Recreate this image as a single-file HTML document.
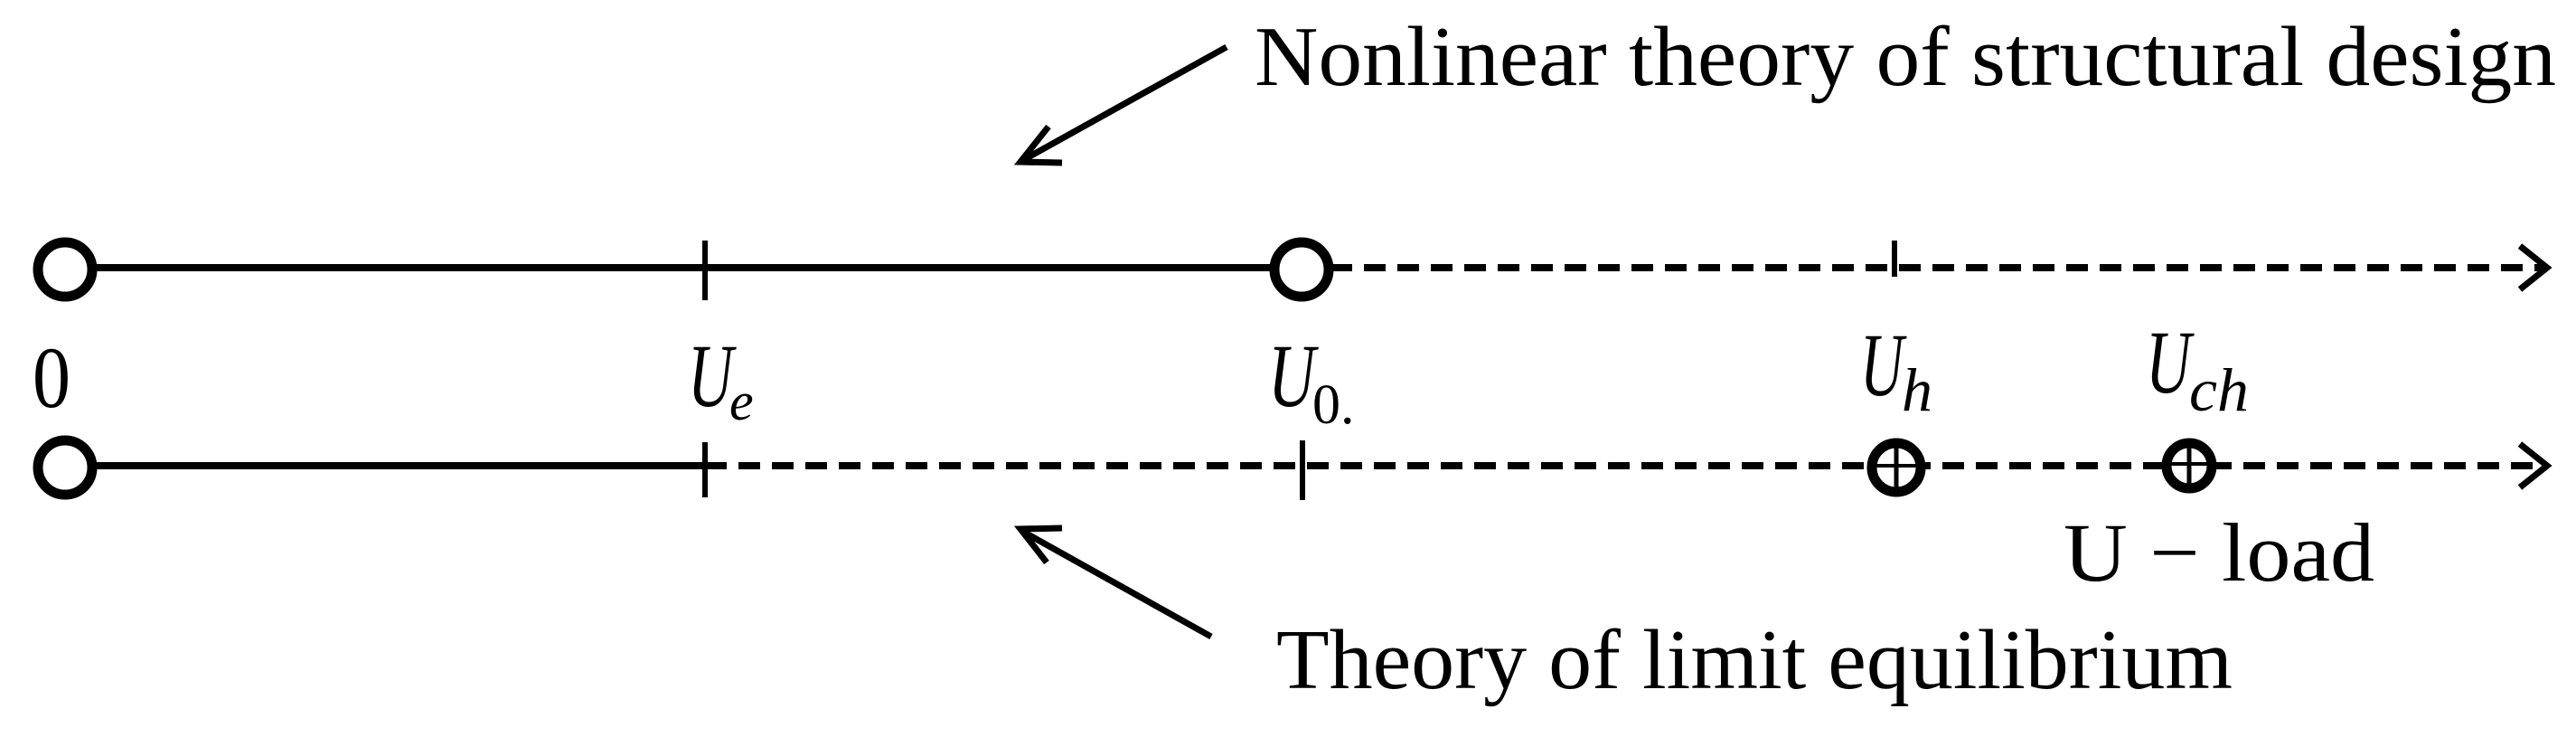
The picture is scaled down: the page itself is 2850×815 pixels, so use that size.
<!DOCTYPE html>
<html><head><meta charset="utf-8"><style>
html,body{margin:0;padding:0;background:#fff;}
svg{display:block;}
text{font-family:"Liberation Serif",serif;fill:#000;}
</style></head><body>
<svg width="2850" height="815" viewBox="0 0 2850 815" xmlns="http://www.w3.org/2000/svg">
<g stroke="#000" fill="none" stroke-width="8">
  <!-- top line -->
  <line x1="72" y1="296" x2="1408" y2="296"/>
  <line x1="1472" y1="296" x2="2812" y2="296" stroke-dasharray="24,13"/>
  <polyline points="2788,272 2818,296 2788,320" stroke-width="7"/>
  <line x1="780" y1="266" x2="780" y2="332" stroke-width="6"/>
  <line x1="2096" y1="266" x2="2096" y2="306" stroke-width="6"/>
  <circle cx="72" cy="298" r="30" stroke-width="11" fill="#fff"/>
  <circle cx="1440" cy="298" r="30" stroke-width="11" fill="#fff"/>
  <!-- bottom line -->
  <line x1="72" y1="515" x2="780" y2="515"/>
  <line x1="780" y1="515" x2="2812" y2="515" stroke-dasharray="24,13"/>
  <polyline points="2788,491 2818,515 2788,539" stroke-width="7"/>
  <line x1="780" y1="489" x2="780" y2="550" stroke-width="6"/>
  <line x1="1441" y1="487" x2="1441" y2="553" stroke-width="6"/>
  <circle cx="72" cy="517" r="30" stroke-width="11" fill="#fff"/>
  <circle cx="2098" cy="517" r="27" stroke-width="11" fill="#fff"/>
  <line x1="2098" y1="492" x2="2098" y2="542" stroke-width="5"/>
  <line x1="2076" y1="515" x2="2120" y2="515" stroke-width="4"/>
  <circle cx="2422" cy="515" r="25" stroke-width="11" fill="#fff"/>
  <line x1="2422" y1="492" x2="2422" y2="540" stroke-width="5"/>
  <line x1="2400" y1="513" x2="2444" y2="513" stroke-width="4"/>
  <!-- pointer arrows -->
  <line x1="1357" y1="52" x2="1132" y2="177" stroke-width="7"/>
  <polyline points="1160,140 1129,179 1175,180" stroke-width="7"/>
  <line x1="1340" y1="704" x2="1132" y2="588" stroke-width="7"/>
  <polyline points="1175,584 1129,585 1158,622" stroke-width="7"/>
</g>
<!-- labels -->
<text x="36" y="450" font-size="96" font-family="Liberation Sans, sans-serif" textLength="42" lengthAdjust="spacingAndGlyphs">0</text>
<text x="761" y="449" font-size="100" font-style="italic" textLength="50" lengthAdjust="spacingAndGlyphs">U</text>
<text x="807" y="464" font-size="60" font-style="italic">e</text>
<text x="1403" y="449" font-size="100" font-style="italic" textLength="52" lengthAdjust="spacingAndGlyphs">U</text>
<text x="1452" y="468" font-size="62">0.</text>
<text x="2058" y="437" font-size="100" font-style="italic" textLength="48" lengthAdjust="spacingAndGlyphs">U</text>
<text x="2104" y="454" font-size="68" font-style="italic">h</text>
<text x="2374" y="434" font-size="100" font-style="italic" textLength="50" lengthAdjust="spacingAndGlyphs">U</text>
<text x="2422" y="454" font-size="68" font-style="italic" textLength="66" lengthAdjust="spacingAndGlyphs">ch</text>
<text x="2283" y="642" font-size="92" textLength="344" lengthAdjust="spacingAndGlyphs">U − load</text>
<text x="1388" y="94" font-size="94" textLength="1440" lengthAdjust="spacingAndGlyphs">Nonlinear theory of structural design</text>
<text x="1412" y="761" font-size="94" textLength="1058" lengthAdjust="spacingAndGlyphs">Theory of limit equilibrium</text>
</svg>
</body></html>
